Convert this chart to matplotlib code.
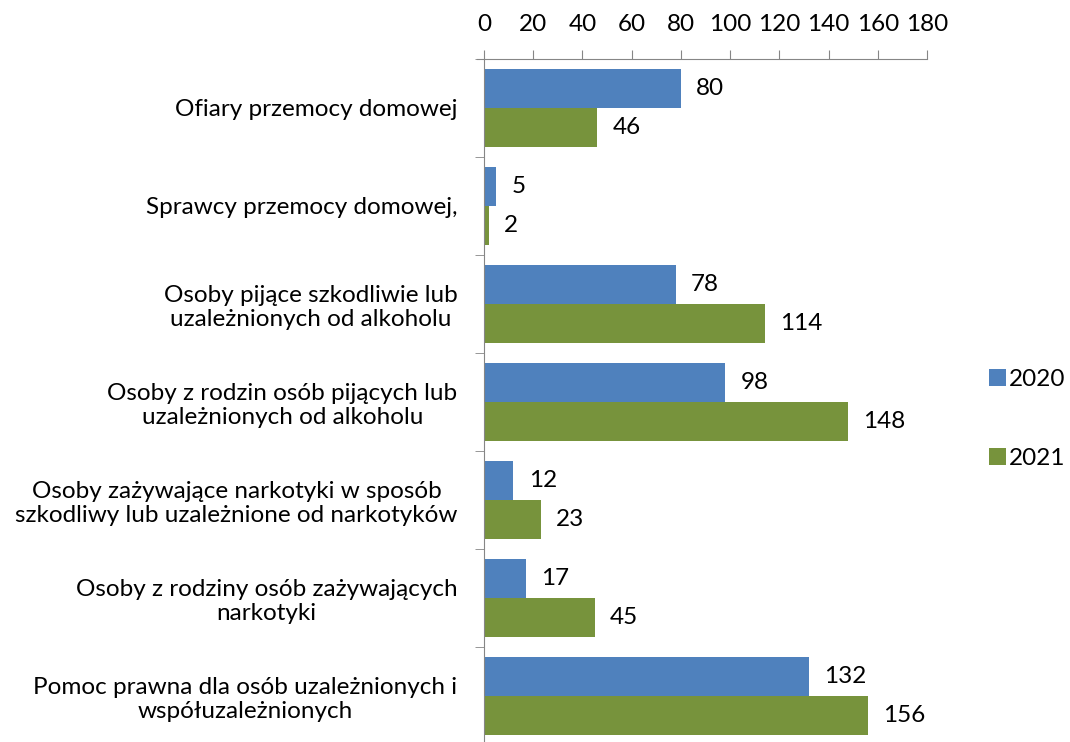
import numpy as np
import matplotlib.pyplot as plt
from matplotlib.ticker import FixedLocator

categories = [
    "Ofiary przemocy domowej",
    "Sprawcy przemocy domowej,",
    "Osoby pijące szkodliwie lub\nuzależnionych od alkoholu",
    "Osoby z rodzin osób pijących lub\nuzależnionych od alkoholu",
    "Osoby zażywające narkotyki w sposób\nszkodliwy lub uzależnione od narkotyków",
    "Osoby z rodziny osób zażywających\nnarkotyki",
    "Pomoc prawna dla osób uzależnionych i\nwspółuzależnionych",
]
vals_2020 = [80, 5, 78, 98, 12, 17, 132]
vals_2021 = [46, 2, 114, 148, 23, 45, 156]
series = ["2020", "2021"]
colors = ["#4F81BD", "#77933C"]
xticks = list(range(0, 181, 20))

plt.rcParams['font.family'] = ['Lato', 'DejaVu Sans']
fs = 17.5
fig = plt.figure(figsize=(10.70, 7.42), dpi=100)
ax = fig.add_axes([0.4523, -0.004, 0.4140, 0.9245])

y = np.arange(len(categories))
h = 0.4
b1 = ax.barh(y - h / 2, vals_2020, height=h, color=colors[0], label=series[0])
b2 = ax.barh(y + h / 2, vals_2021, height=h, color=colors[1], label=series[1])
ax.bar_label(b1, padding=11, fontsize=fs)
ax.bar_label(b2, padding=11, fontsize=fs)

ax.set_xlim(0, 180)
ax.set_ylim(len(categories) - 0.5, -0.5)
ax.set_xticks(xticks)
ax.xaxis.tick_top()
ax.tick_params(axis='x', direction='out', length=6.5, color='#868686',
               labelsize=fs, pad=11)

ax.set_yticks(y)
ax.set_yticklabels(categories, fontsize=fs, multialignment='center')
ax.yaxis.set_minor_locator(FixedLocator(np.arange(-0.5, len(categories), 1)))
ax.tick_params(axis='y', which='major', length=0, pad=19)
ax.tick_params(axis='y', which='minor', length=6.5, color='#868686')

for s in ['right', 'bottom']:
    ax.spines[s].set_visible(False)
for s in ['top', 'left']:
    ax.spines[s].set_color('#868686')
ax.spines['top'].set_bounds(-3, 180)

ax.legend(loc='center left', bbox_to_anchor=(1.09, 0.475), frameon=False,
          fontsize=fs, handlelength=0.7, handleheight=0.7,
          handletextpad=0.15, labelspacing=2.4)

fig.savefig("out.png", dpi=100)
